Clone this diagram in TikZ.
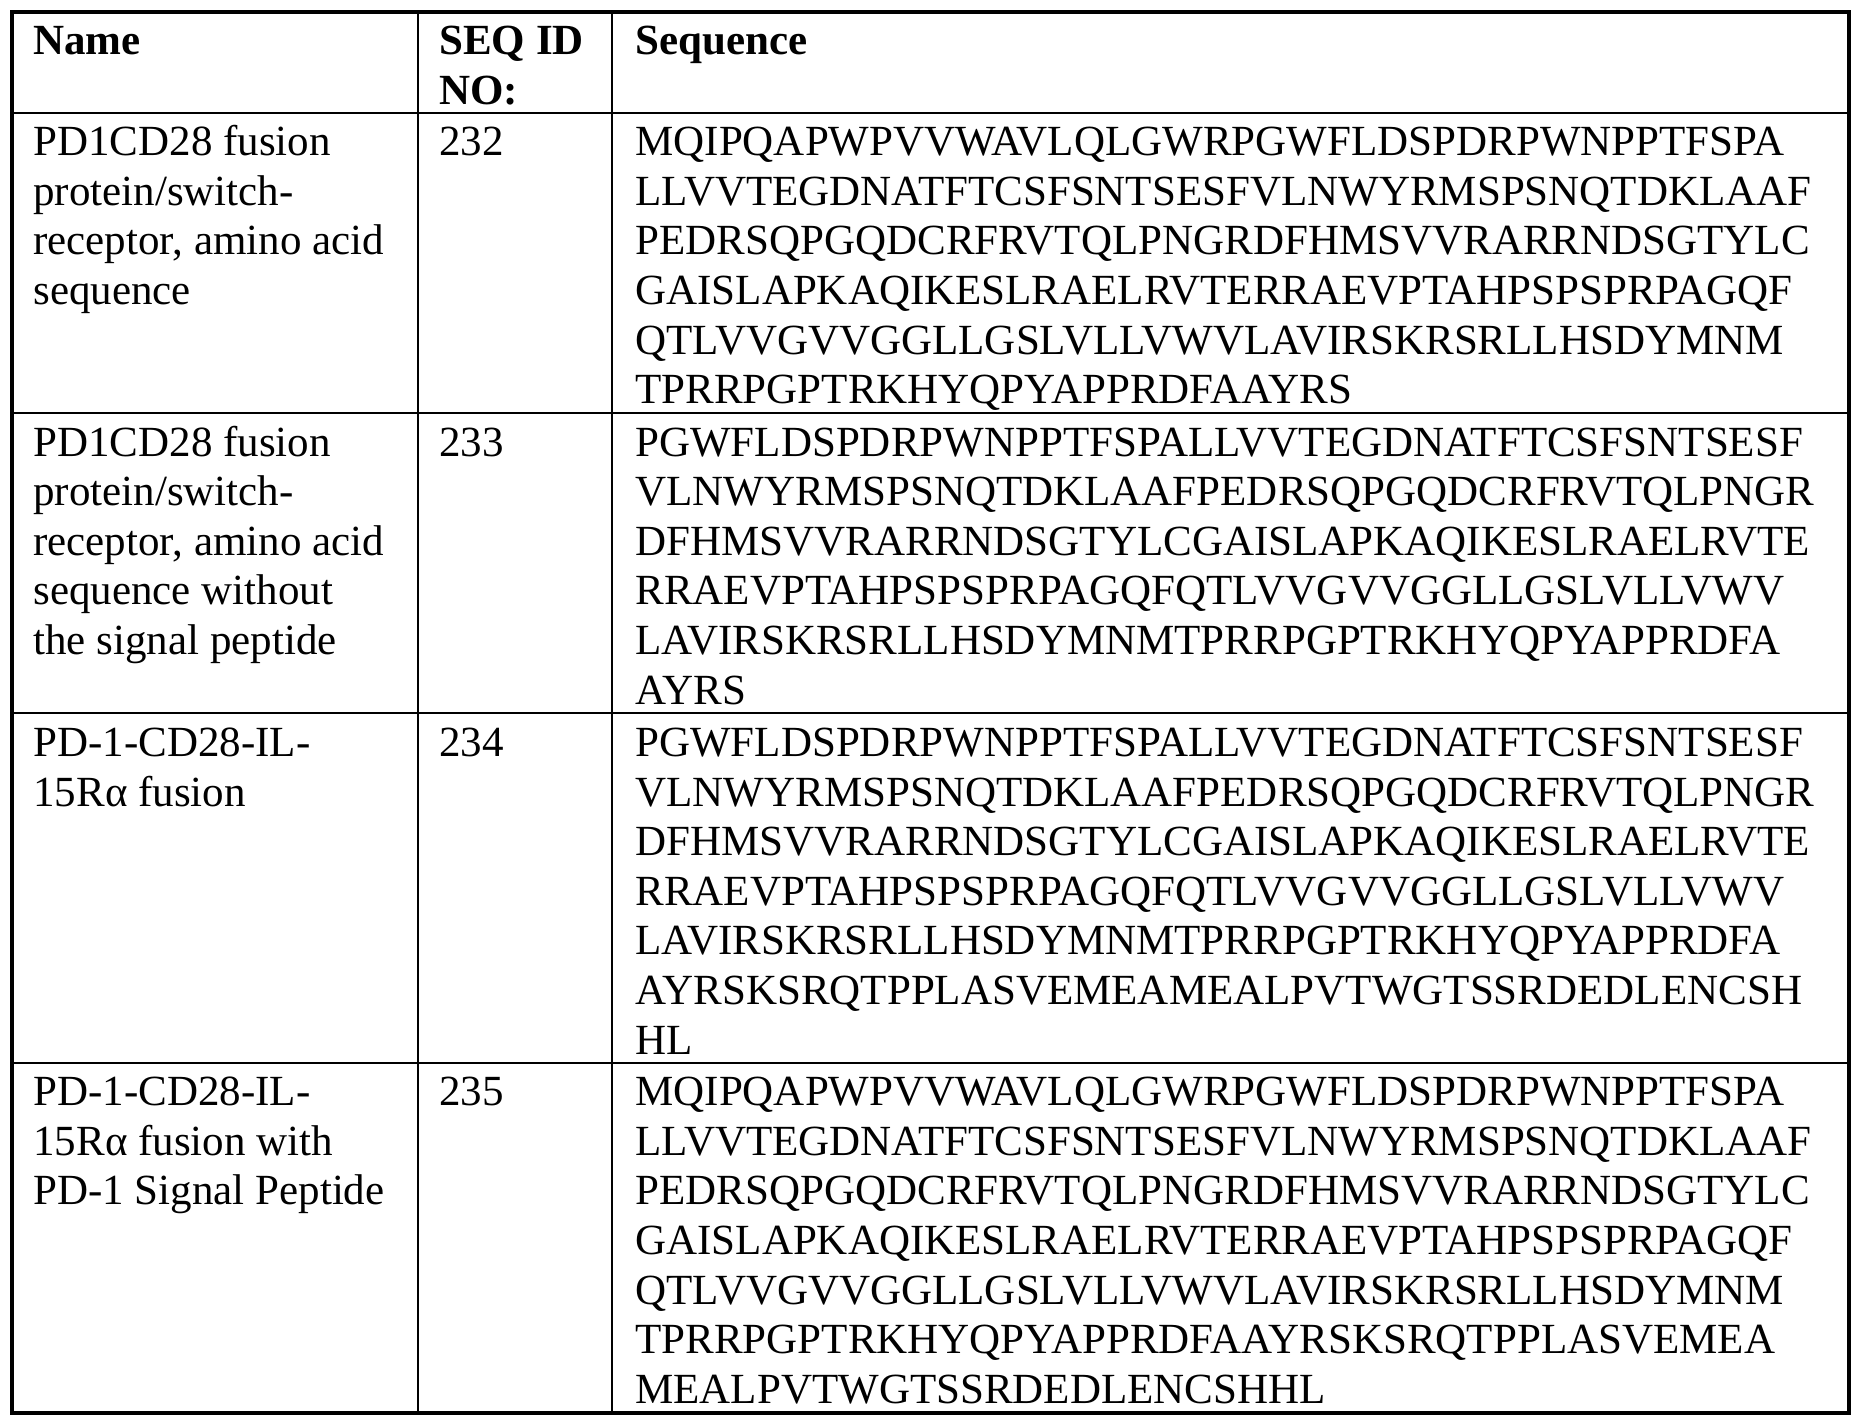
\documentclass[tikz,border=0pt]{standalone}
\usepackage{fontspec}
\setmainfont{Liberation Serif}
\begin{document}
\begin{tikzpicture}[x=1pt,y=1pt,
  txt/.style={anchor=base west,inner sep=0pt,font=\fontsize{21.5}{24.8}\selectfont},
  hd/.style={txt,font=\fontsize{21.5}{24.8}\selectfont\bfseries},
  outer/.style={line width=2pt},
  inner/.style={line width=1.2pt}]
\useasboundingbox (0,0) rectangle (928,-711.5);
% grid
\draw[inner] (6,-56.5) -- (924.5,-56.5);
\draw[inner] (6,-206.5) -- (924.5,-206.5);
\draw[inner] (6,-356.5) -- (924.5,-356.5);
\draw[inner] (6,-531.5) -- (924.5,-531.5);
\draw[inner] (209,-6) -- (209,-706.5);
\draw[inner] (306,-6) -- (306,-706.5);
\draw[outer] (6,-6) rectangle (924.5,-706.5);
% header
\node[hd] (h1) at (16.5,-27.3) {Name};
\node[hd] (h2) at (219.5,-27.3) {SEQ ID};
\node[hd] (h3) at (219.5,-52.3) {NO:};
\node[hd] (h4) at (317.5,-27.3) {Sequence};
% row 1
\foreach \t [count=\i] in {PD1CD28 fusion,protein/switch-,{receptor, amino acid},sequence}
  \node[txt] (a1-\i) at (16.5,{-77.8-(\i-1)*24.8}) {\t};
\node[txt] (b1) at (219.5,-77.8) {232};
\foreach \t [count=\i] in {MQIPQAPWPVVWAVLQLGWRPGWFLDSPDRPWNPPTFSPA,LLVVTEGDNATFTCSFSNTSESFVLNWYRMSPSNQTDKLAAF,PEDRSQPGQDCRFRVTQLPNGRDFHMSVVRARRNDSGTYLC,GAISLAPKAQIKESLRAELRVTERRAEVPTAHPSPSPRPAGQF,QTLVVGVVGGLLGSLVLLVWVLAVIRSKRSRLLHSDYMNM,TPRRPGPTRKHYQPYAPPRDFAAYRS}
  \node[txt] (c1-\i) at (317.5,{-77.8-(\i-1)*24.8}) {\t};
% row 2
\foreach \t [count=\i] in {PD1CD28 fusion,protein/switch-,{receptor, amino acid},sequence without,the signal peptide}
  \node[txt] (a2-\i) at (16.5,{-228-(\i-1)*24.8}) {\t};
\node[txt] (b2) at (219.5,-228) {233};
\foreach \t [count=\i] in {PGWFLDSPDRPWNPPTFSPALLVVTEGDNATFTCSFSNTSESF,VLNWYRMSPSNQTDKLAAFPEDRSQPGQDCRFRVTQLPNGR,DFHMSVVRARRNDSGTYLCGAISLAPKAQIKESLRAELRVTE,RRAEVPTAHPSPSPRPAGQFQTLVVGVVGGLLGSLVLLVWV,LAVIRSKRSRLLHSDYMNMTPRRPGPTRKHYQPYAPPRDFA,AYRS}
  \node[txt] (c2-\i) at (317.5,{-228-(\i-1)*24.8}) {\t};
% row 3
\foreach \t [count=\i] in {PD-1-CD28-IL-,15Rα fusion}
  \node[txt] (a3-\i) at (16.5,{-378.2-(\i-1)*24.8}) {\t};
\node[txt] (b3) at (219.5,-378.2) {234};
\foreach \t [count=\i] in {PGWFLDSPDRPWNPPTFSPALLVVTEGDNATFTCSFSNTSESF,VLNWYRMSPSNQTDKLAAFPEDRSQPGQDCRFRVTQLPNGR,DFHMSVVRARRNDSGTYLCGAISLAPKAQIKESLRAELRVTE,RRAEVPTAHPSPSPRPAGQFQTLVVGVVGGLLGSLVLLVWV,LAVIRSKRSRLLHSDYMNMTPRRPGPTRKHYQPYAPPRDFA,AYRSKSRQTPPLASVEMEAMEALPVTWGTSSRDEDLENCSH,HL}
  \node[txt] (c3-\i) at (317.5,{-378.2-(\i-1)*24.8}) {\t};
% row 4
\foreach \t [count=\i] in {PD-1-CD28-IL-,15Rα fusion with,PD-1 Signal Peptide}
  \node[txt] (a4-\i) at (16.5,{-552.8-(\i-1)*24.8}) {\t};
\node[txt] (b4) at (219.5,-552.8) {235};
\foreach \t [count=\i] in {MQIPQAPWPVVWAVLQLGWRPGWFLDSPDRPWNPPTFSPA,LLVVTEGDNATFTCSFSNTSESFVLNWYRMSPSNQTDKLAAF,PEDRSQPGQDCRFRVTQLPNGRDFHMSVVRARRNDSGTYLC,GAISLAPKAQIKESLRAELRVTERRAEVPTAHPSPSPRPAGQF,QTLVVGVVGGLLGSLVLLVWVLAVIRSKRSRLLHSDYMNM,TPRRPGPTRKHYQPYAPPRDFAAYRSKSRQTPPLASVEMEA,MEALPVTWGTSSRDEDLENCSHHL}
  \node[txt] (c4-\i) at (317.5,{-552.8-(\i-1)*24.8}) {\t};
\end{tikzpicture}
\end{document}
